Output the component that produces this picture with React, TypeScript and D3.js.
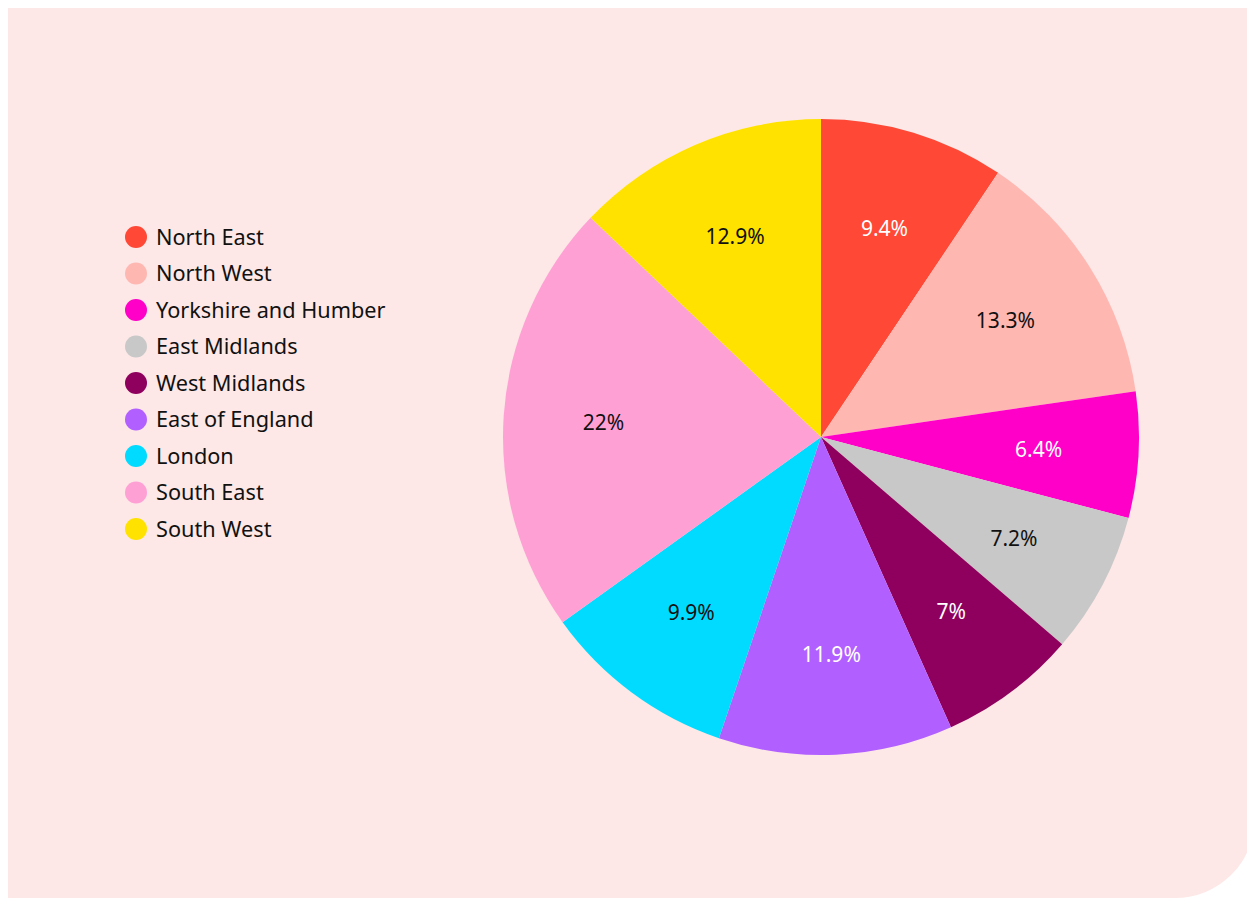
import React from "react";
import * as d3 from "d3";

const regions = ["North East", "North West", "Yorkshire and Humber", "East Midlands", "West Midlands", "East of England", "London", "South East", "South West"];
const shares = [9.4, 13.3, 6.4, 7.2, 7, 11.9, 9.9, 22, 12.9];
const colors = ["#ff4836", "#ffb7b2", "#ff00c8", "#c8c8c8", "#8f005e", "#b25fff", "#00dbff", "#ffa0d5", "#ffe200"];
const labelColors = ["#ffffff", "#111111", "#ffffff", "#111111", "#ffffff", "#ffffff", "#111111", "#111111", "#111111"];

const W = 1247;
const H = 890;
const FONT = "'Noto Sans', sans-serif";

export default function App() {
  const cx = 813, cy = 429, R = 318, LR = 218;
  const pie = d3.pie<number>().value((d) => d).sort(null);
  const arcs = pie(shares);
  const arcGen = d3.arc<d3.PieArcDatum<number>>().innerRadius(0).outerRadius(R);
  const labelArc = d3.arc<d3.PieArcDatum<number>>().innerRadius(LR).outerRadius(LR);
  const cr = 80;
  const bg = `M0,0 H${W} V${H - cr} A${cr},${cr} 0 0 1 ${W - cr},${H} H0 Z`;
  return (
    <svg width={W} height={H} style={{ display: "block", overflow: "visible" }}>
      <path d={bg} fill="#fde8e7" />
      <g transform={`translate(${cx},${cy})`}>
        {arcs.map((a, i) => (
          <path key={i} d={arcGen(a) || ""} fill={colors[i]} />
        ))}
        {arcs.map((a, i) => {
          const [x, y] = labelArc.centroid(a);
          return (
            <text key={"l" + i} x={x} y={y} dy="0.36em" textAnchor="middle" fontFamily={FONT} fontSize={21} fill={labelColors[i]}>
              {shares[i] + "%"}
            </text>
          );
        })}
      </g>
      <g>
        {regions.map((r, i) => (
          <g key={r} transform={`translate(128,${229 + i * 36.5})`}>
            <circle r={11} fill={colors[i]} />
            <text x={20} dy="0.36em" fontFamily={FONT} fontSize={21.7} fill="#111111">
              {r}
            </text>
          </g>
        ))}
      </g>
    </svg>
  );
}
